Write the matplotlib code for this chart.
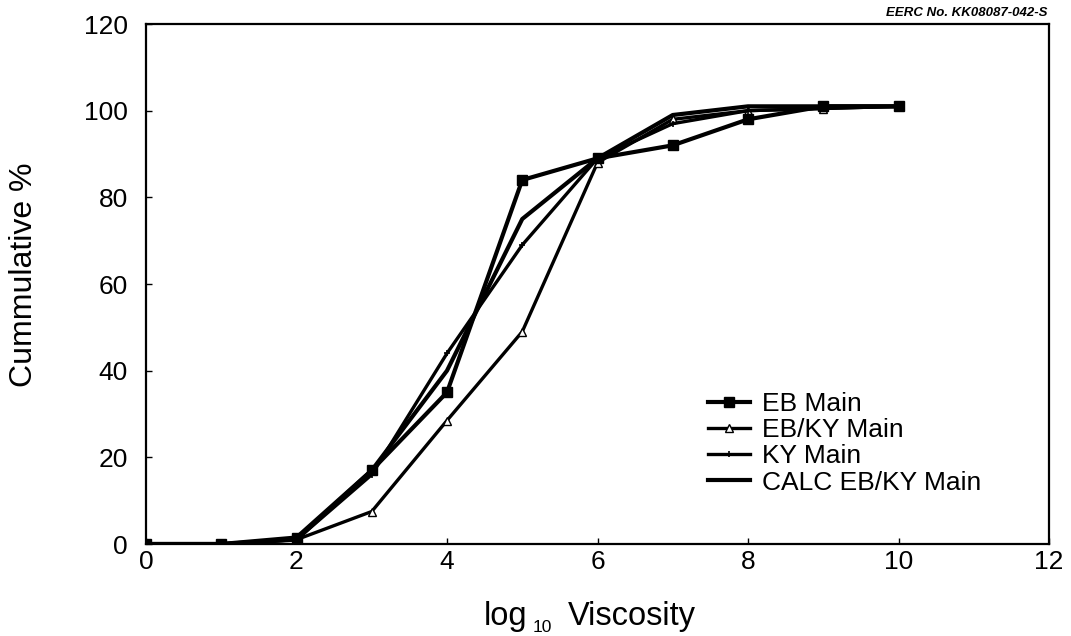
import matplotlib
matplotlib.use("Agg")
import matplotlib.pyplot as plt

plt.rcParams['font.family'] = ['Liberation Sans', 'DejaVu Sans']

log_visc = [0, 1, 2, 3, 4, 5, 6, 7, 8, 9, 10]
eb_main = [0, 0, 1.5, 17, 35, 84, 89, 92, 98, 101, 101]
ebky_main = [0, 0, 1, 7.5, 28.5, 49, 88, 98, 100, 100.5, 101]
ky_main = [0, 0, 1, 16, 44, 69, 89, 97, 100, 100.5, 101]
calc_ebky = [0, 0, 1, 17, 40, 75, 89, 99, 101, 101, 101]

W, H = 1071, 636
fig = plt.figure(figsize=(W / 100, H / 100), dpi=100)
ax = fig.add_axes([146/W, 1 - 544/H, (1049-146)/W, (544-24)/H])

ax.plot(log_visc, eb_main, color='black', lw=3.0, marker='s', ms=7.5,
        mfc='black', mec='black', label='EB Main', zorder=4)
ax.plot(log_visc, ebky_main, color='black', lw=2.4, marker='^', ms=6,
        mfc='white', mec='black', mew=1.0, label='EB/KY Main', zorder=3)
ax.plot(log_visc, ky_main, color='black', lw=2.4, marker='+', ms=5,
        mec='black', mew=1.2, label='KY Main', zorder=3)
ax.plot(log_visc, calc_ebky, color='black', lw=3.0, label='CALC EB/KY Main', zorder=3)

ax.set_xlim(0, 12)
ax.set_ylim(0, 120)
ax.set_xticks(range(0, 13, 2))
ax.set_yticks(range(0, 121, 20))
ax.tick_params(direction='in', length=4, width=1, labelsize=19)
ax.tick_params(axis='y', pad=13)
ax.tick_params(axis='x', pad=4)
for s in ax.spines.values():
    s.set_linewidth(1.6)

# y-axis label
fig.text(24/W, 1 - 275/H, 'Cummulative %', fontsize=23, rotation=90,
         ha='center', va='center')

# x-axis label: "log" with a small subscript "10", then "Viscosity"
y_base = 1 - 625/H
fig.text(484/W, y_base, 'log', fontsize=23.5, ha='left', va='baseline')
fig.text(533/W, 1 - 632/H, '10', fontsize=12.5, ha='left', va='baseline')
fig.text(568/W, y_base, 'Viscosity', fontsize=23.5, ha='left', va='baseline')

ax.legend(loc='lower left', bbox_to_anchor=(0.622, 0.095), frameon=False,
          fontsize=19, handlelength=1.6, handletextpad=0.45,
          labelspacing=0.08, borderaxespad=0, borderpad=0)

fig.text(1047/W, 1 - 13/H, 'EERC No. KK08087-042-S', ha='right', va='center',
         fontsize=9.5, style='italic', fontweight='bold')

fig.savefig('out.png', dpi=100)
